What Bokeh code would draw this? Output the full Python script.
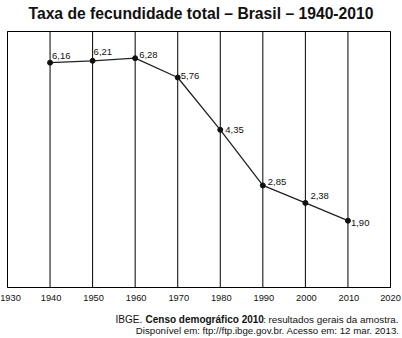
from bokeh.plotting import figure
from bokeh.models import ColumnDataSource, Label, Range1d
from bokeh.embed import file_html
from bokeh.resources import INLINE
from bokeh.core.properties import value

years = [1940, 1950, 1960, 1970, 1980, 1990, 2000, 2010]
rates = [6.16, 6.21, 6.28, 5.76, 4.35, 2.85, 2.38, 1.90]
rate_labels = ["6,16", "6,21", "6,28", "5,76", "4,35", "2,85", "2,38", "1,90"]
tick_years = [1930, 1940, 1950, 1960, 1970, 1980, 1990, 2000, 2010, 2020]
tick_labels = ["1930", "1940", "1950", "1960", "1970", "1980", "1990", "2000", "2010", "2020"]
y_min, y_max = 0.1, 7.0

title_text = "Taxa de fecundidade total – Brasil – 1940-2010"
source_a = "IBGE."
source_b = "Censo demográfico 2010"
source_c = ": resultados gerais da amostra."
source_line2 = "Disponível em: ftp://ftp.ibge.gov.br. Acesso em: 12 mar. 2013."

FONT = "Liberation Sans"
W, H = 402, 338
FL, FR, FT, FB = 7, 390, 31, 287   # plot box in canvas pixels

# ranges so that the plotting box lands at FL..FR / FT..FB on a full-canvas frame
x0, x1 = tick_years[0], tick_years[-1]
kx = (FR - FL) / (x1 - x0)
ky = (FB - FT) / (y_max - y_min)
x_range = Range1d(x0 - FL / kx, x1 + (W - FR) / kx)
y_range = Range1d(y_min - (H - FB) / ky, y_max + FT / ky)

# label offsets (screen px)
dx = [2, 1, 4, 3, 5, 5, 5, 3]
dy = [-7, -9, -3, -2, 0, -3, -7, 2]
tick_dx = [3, 1, 1, 1, 1, 1, 1, 1, 1, 0]

src = ColumnDataSource(dict(x=years, y=rates, lab=rate_labels, dx=dx, dy=dy))
tsrc = ColumnDataSource(dict(x=tick_years, lab=tick_labels, dx=tick_dx,
                             y0=[y_min] * len(tick_years), y1=[y_max] * len(tick_years)))

p = figure(width=W, height=H, output_backend="svg", toolbar_location=None,
           x_range=x_range, y_range=y_range, min_border=0)
p.axis.visible = False
p.grid.visible = False
p.outline_line_color = None
p.background_fill_color = "white"
p.border_fill_color = "white"

# vertical decade lines and box
p.segment(x0="x", y0="y0", x1="x", y1="y1", source=tsrc, line_color="black", line_width=1)
p.quad(left=x0, right=x1, bottom=y_min, top=y_max, fill_color=None,
       line_color="black", line_width=1)

# tick labels
p.text("x", "y0", text="lab", source=tsrc, x_offset="dx", y_offset=10,
       text_font=value(FONT), text_font_size="9.3px", text_align="center",
       text_baseline="middle", text_color="#111111")

p.line("x", "y", source=src, line_color="#222222", line_width=1.3)
p.scatter("x", "y", source=src, size=5, color="#111111")
p.text("x", "y", text="lab", source=src, x_offset="dx", y_offset="dy",
       text_font=value(FONT), text_font_size="9.5px", text_align="left",
       text_baseline="middle", text_color="#111111")

p.add_layout(Label(x=(FL + FR) / 2 + 2, y=H - 13, x_units="screen", y_units="screen",
                   text=title_text, text_align="center", text_baseline="middle",
                   text_font=FONT, text_font_size="15.7px", text_font_style="bold",
                   text_color="#111111"))

common = dict(x_units="screen", y_units="screen", text_font=FONT,
              text_color="#111111", text_baseline="middle")
p.add_layout(Label(x=115, y=H - 319, text=source_a, text_align="left",
                   text_font_size="10px", **common))
p.add_layout(Label(x=145, y=H - 319, text=source_b, text_align="left",
                   text_font_style="bold", text_font_size="10px", **common))
p.add_layout(Label(x=398, y=H - 319, text=source_c, text_align="right",
                   text_font_size="9.9px", **common))
p.add_layout(Label(x=399, y=H - 330, text=source_line2, text_align="right",
                   text_font_size="9.7px", **common))

open("out.html", "w").write(file_html(p, INLINE))
